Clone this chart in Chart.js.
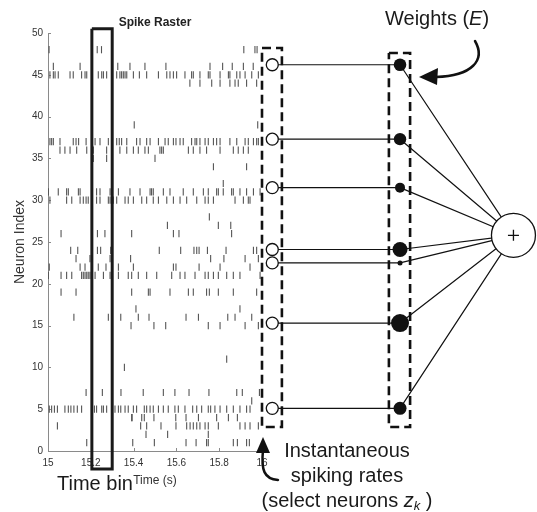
<!DOCTYPE html>
<html>
<head>
  <title>Spike Raster</title>
  <script src="https://cdn.jsdelivr.net/npm/chart.js"></script>
  <style>
    html, body { margin: 0; padding: 0; background: #fff; }
    .wrap { width: 537px; height: 512px; position: relative; }
  </style>
</head>
<body>
  <div class="wrap"><canvas id="raster"></canvas></div>
  <script>
    // axis ticks
    const xTicks = [15, 15.2, 15.4, 15.6, 15.8, 16];
    const yMin = 0, yMax = 50, yStep = 5;

    // raster: neuron index of each row and the spike times (s) on it
    const neuronIds = [48, 46, 45, 44, 39, 37, 36, 35, 34, 32, 31, 30, 28, 27, 26, 24, 23, 22, 21, 19, 17, 16, 15, 11, 10, 7, 6, 5, 4, 3, 2, 1];
    const spikeTimes = [
      [15.005, 15.23, 15.25, 15.915, 15.967, 15.977],
      [15.025, 15.15, 15.326, 15.383, 15.453, 15.551, 15.757, 15.816, 15.861, 15.913, 15.959],
      [15.009, 15.025, 15.033, 15.048, 15.103, 15.118, 15.157, 15.173, 15.181, 15.235, 15.251, 15.259, 15.274, 15.321, 15.336, 15.344, 15.352, 15.36, 15.368, 15.399, 15.427, 15.461, 15.516, 15.555, 15.57, 15.586, 15.601, 15.64, 15.671, 15.679, 15.71, 15.749, 15.757, 15.804, 15.843, 15.85, 15.882, 15.897, 15.921, 15.952, 15.983],
      [15.663, 15.71, 15.765, 15.804, 15.85, 15.874, 15.889, 15.928, 15.975],
      [15.403, 15.98],
      [15.009, 15.017, 15.025, 15.056, 15.118, 15.131, 15.143, 15.178, 15.22, 15.243, 15.282, 15.321, 15.333, 15.344, 15.368, 15.414, 15.43, 15.461, 15.477, 15.516, 15.547, 15.562, 15.586, 15.598, 15.617, 15.632, 15.671, 15.687, 15.695, 15.71, 15.734, 15.749, 15.773, 15.788, 15.804, 15.85, 15.882, 15.921, 15.936, 15.96, 15.975, 15.983],
      [15.056, 15.079, 15.103, 15.134, 15.181, 15.212, 15.274, 15.336, 15.368, 15.399, 15.422, 15.453, 15.469, 15.523, 15.531, 15.539, 15.656, 15.679, 15.71, 15.741, 15.804, 15.866, 15.889, 15.913, 15.936],
      [15.212, 15.274, 15.5],
      [15.773, 15.928],
      [15.819],
      [15.002, 15.048, 15.087, 15.095, 15.142, 15.15, 15.227, 15.243, 15.29, 15.329, 15.383, 15.43, 15.477, 15.484, 15.492, 15.539, 15.57, 15.632, 15.679, 15.726, 15.749, 15.788, 15.796, 15.819, 15.858, 15.866, 15.897, 15.928, 15.96, 15.991],
      [15.009, 15.087, 15.111, 15.15, 15.165, 15.178, 15.188, 15.227, 15.243, 15.282, 15.29, 15.305, 15.321, 15.36, 15.375, 15.399, 15.438, 15.461, 15.492, 15.516, 15.555, 15.586, 15.617, 15.648, 15.695, 15.734, 15.749, 15.773, 15.874, 15.913, 15.936, 15.944],
      [15.754],
      [15.204, 15.558, 15.796, 15.854],
      [15.061, 15.231, 15.266, 15.391, 15.586, 15.612, 15.858],
      [15.106, 15.139, 15.231, 15.246, 15.293, 15.52, 15.62, 15.682, 15.695, 15.706, 15.745, 15.832, 15.96, 15.975],
      [15.131, 15.196, 15.29, 15.386, 15.76, 15.822, 15.921, 15.983],
      [15.006, 15.15, 15.173, 15.204, 15.235, 15.271, 15.329, 15.399, 15.586, 15.598, 15.706, 15.804, 15.944],
      [15.002, 15.061, 15.087, 15.111, 15.157, 15.165, 15.173, 15.181, 15.188, 15.196, 15.22, 15.259, 15.29, 15.329, 15.375, 15.391, 15.422, 15.461, 15.508, 15.578, 15.617, 15.64, 15.687, 15.734, 15.749, 15.773, 15.796, 15.835, 15.866, 15.897, 15.991],
      [15.061, 15.131, 15.391, 15.469, 15.477, 15.57, 15.656, 15.679, 15.741, 15.754, 15.796, 15.866, 15.975],
      [15.411, 15.897],
      [15.121, 15.282, 15.34, 15.422, 15.472, 15.645, 15.703, 15.84, 15.874, 15.952],
      [15.388, 15.495, 15.55, 15.749, 15.804, 15.921, 15.983],
      [15.835],
      [15.357],
      [15.178, 15.254, 15.341, 15.445, 15.539, 15.593, 15.659, 15.752, 15.882, 15.908, 15.988],
      [15.952],
      [15.006, 15.017, 15.03, 15.044, 15.079, 15.095, 15.107, 15.121, 15.137, 15.157, 15.217, 15.227, 15.251, 15.259, 15.274, 15.313, 15.329, 15.34, 15.36, 15.375, 15.399, 15.414, 15.45, 15.461, 15.477, 15.492, 15.516, 15.539, 15.562, 15.593, 15.609, 15.64, 15.676, 15.695, 15.718, 15.749, 15.76, 15.78, 15.804, 15.835, 15.866, 15.897, 15.928, 15.944],
      [15.391, 15.393, 15.438, 15.45, 15.495, 15.597, 15.645, 15.703, 15.788, 15.843, 15.885],
      [15.044, 15.433, 15.461, 15.528, 15.598, 15.648, 15.664, 15.679, 15.695, 15.71, 15.734, 15.749, 15.796, 15.897, 15.921, 15.944, 15.983],
      [15.458, 15.559, 15.749],
      [15.181, 15.396, 15.497, 15.645, 15.692, 15.741, 15.749, 15.866, 15.885, 15.928, 15.941]
    ];

    // the time bin (s)
    const binStart = 15.205, binEnd = 15.3;

    // selected neurons and their weights E
    const selectedNeurons = [46.2, 37.3, 31.5, 24.1, 22.5, 15.3, 5.1];
    const weights = [0.63, 0.62, 0.5, 0.75, 0.25, 0.9, 0.65];

    // where the diagram columns sit, in the time units of the x axis
    const rateX = 16.048, weightX = 16.645, sumX = 17.175, sumY = 25.8;

    const FONT = '"Liberation Sans", Arial, sans-serif';

    const spikePoints = [];
    neuronIds.forEach((n, i) => {
      spikeTimes[i].forEach(t => spikePoints.push({ x: t, y: n }));
    });

    function rect(x0, x1, y0, y1) {
      return [{ x: x0, y: y1 }, { x: x1, y: y1 }, { x: x1, y: y0 }, { x: x0, y: y0 }, { x: x0, y: y1 }];
    }

    const rateToWeight = [];
    const weightToSum = [];
    selectedNeurons.forEach(n => {
      rateToWeight.push({ x: rateX, y: n }, { x: weightX, y: n }, { x: weightX, y: null });
      weightToSum.push({ x: weightX, y: n }, { x: sumX, y: sumY }, { x: sumX, y: null });
    });

    const decor = {
      id: 'decor',
      beforeDatasetsDraw(chart) {
        const { ctx, chartArea, scales } = chart;
        const x = scales.x, y = scales.y;
        ctx.save();
        ctx.strokeStyle = '#8a8a8a';
        ctx.lineWidth = 1;
        ctx.beginPath();
        ctx.moveTo(chartArea.left, chartArea.bottom + 0.5);
        ctx.lineTo(x.getPixelForValue(16), chartArea.bottom + 0.5);
        xTicks.forEach(v => {
          const px = Math.round(x.getPixelForValue(v)) + 0.5;
          ctx.moveTo(px, chartArea.bottom);
          ctx.lineTo(px, chartArea.bottom - 3);
        });
        for (let v = yMin; v <= yMax; v += yStep) {
          const py = Math.round(y.getPixelForValue(v)) + 0.5;
          ctx.moveTo(chartArea.left, py);
          ctx.lineTo(chartArea.left + 3, py);
        }
        ctx.stroke();
        ctx.restore();
      },
      afterDraw(chart) {
        const { ctx, scales } = chart;
        const x = scales.x, y = scales.y;
        ctx.save();

        // plot title and axis titles
        ctx.fillStyle = '#222';
        ctx.textAlign = 'center';
        ctx.textBaseline = 'alphabetic';
        ctx.font = 'bold 12px ' + FONT;
        ctx.fillText('Spike Raster', x.getPixelForValue(15.5), 26);
        ctx.fillStyle = '#333';
        ctx.font = '12px ' + FONT;
        ctx.fillText('Time (s)', x.getPixelForValue(15.5), 484);
        ctx.save();
        ctx.translate(24, y.getPixelForValue(25));
        ctx.rotate(-Math.PI / 2);
        ctx.font = '14px ' + FONT;
        ctx.fillText('Neuron Index', 0, 0);
        ctx.restore();

        // annotations
        ctx.fillStyle = '#1a1a1a';
        ctx.font = '20px ' + FONT;
        ctx.textAlign = 'left';
        ctx.fillText('Time bin', 57, 490);

        let tx = 385;
        ctx.fillText('Weights (', tx, 25);
        tx += ctx.measureText('Weights (').width;
        ctx.font = 'italic 20px ' + FONT;
        ctx.fillText('E', tx, 25);
        tx += ctx.measureText('E').width;
        ctx.font = '20px ' + FONT;
        ctx.fillText(')', tx, 25);

        ctx.textAlign = 'center';
        ctx.fillText('Instantaneous', 347, 457);
        ctx.fillText('spiking rates', 347, 482);

        const part1 = '(select neurons ';
        const part4 = ' )';
        ctx.font = '20px ' + FONT;
        const w1 = ctx.measureText(part1).width, w4 = ctx.measureText(part4).width;
        ctx.font = 'italic 20px ' + FONT;
        const w2 = ctx.measureText('z').width;
        ctx.font = 'italic 13px ' + FONT;
        const w3 = ctx.measureText('k').width;
        let sx = 347 - (w1 + w2 + w3 + w4) / 2;
        ctx.textAlign = 'left';
        ctx.font = '20px ' + FONT;
        ctx.fillText(part1, sx, 507); sx += w1;
        ctx.font = 'italic 20px ' + FONT;
        ctx.fillText('z', sx, 507); sx += w2;
        ctx.font = 'italic 13px ' + FONT;
        ctx.fillText('k', sx, 510); sx += w3;
        ctx.font = '20px ' + FONT;
        ctx.fillText(part4, sx, 507);

        // curved arrows
        ctx.strokeStyle = '#111';
        ctx.fillStyle = '#111';
        ctx.lineWidth = 2.5;
        ctx.lineCap = 'round';
        ctx.beginPath();
        ctx.moveTo(475, 41);
        ctx.bezierCurveTo(486, 60, 472, 76, 436, 77);
        ctx.stroke();
        ctx.beginPath();
        ctx.moveTo(419, 77);
        ctx.lineTo(438, 68);
        ctx.lineTo(437, 85);
        ctx.closePath();
        ctx.fill();

        ctx.beginPath();
        ctx.moveTo(263, 450);
        ctx.bezierCurveTo(261, 470, 264, 479, 278, 480);
        ctx.stroke();
        ctx.beginPath();
        ctx.moveTo(263, 437);
        ctx.lineTo(256, 453);
        ctx.lineTo(270, 453);
        ctx.closePath();
        ctx.fill();

        ctx.restore();
      }
    };

    const ctx = document.getElementById('raster').getContext('2d');
    const chart = new Chart(ctx, {
      type: 'scatter',
      data: {
        datasets: [
          {
            label: 'spikes',
            data: spikePoints,
            pointStyle: 'line',
            rotation: 90,
            pointRadius: 3.6,
            borderWidth: 1.1,
            borderColor: '#555',
            order: 9
          },
          {
            label: 'time bin',
            type: 'line',
            data: rect(binStart, binEnd, -2.15, 50.5),
            borderColor: '#1a1a1a',
            borderWidth: 3,
            pointRadius: 0,
            clip: false,
            order: 8
          },
          {
            label: 'rate box',
            type: 'line',
            data: rect(16.0, 16.093, 2.87, 48.2),
            borderColor: '#111',
            borderWidth: 2.6,
            borderDash: [9, 5],
            pointRadius: 0,
            clip: false,
            order: 8
          },
          {
            label: 'weight box',
            type: 'line',
            data: rect(16.593, 16.692, 2.87, 47.6),
            borderColor: '#111',
            borderWidth: 2.6,
            borderDash: [9, 5],
            pointRadius: 0,
            clip: false,
            order: 8
          },
          {
            label: 'rate to weight',
            type: 'line',
            data: rateToWeight,
            borderColor: '#111',
            borderWidth: 1.2,
            pointRadius: 0,
            spanGaps: false,
            clip: false,
            order: 7
          },
          {
            label: 'weight to sum',
            type: 'line',
            data: weightToSum,
            borderColor: '#111',
            borderWidth: 1.2,
            pointRadius: 0,
            spanGaps: false,
            clip: false,
            order: 7
          },
          {
            label: 'rates',
            data: selectedNeurons.map(n => ({ x: rateX, y: n })),
            pointRadius: 6,
            backgroundColor: '#fff',
            borderColor: '#111',
            borderWidth: 1.3,
            order: 3
          },
          {
            label: 'weights',
            data: selectedNeurons.map(n => ({ x: weightX, y: n })),
            pointRadius: weights.map(w => w * 10),
            backgroundColor: '#111',
            borderColor: '#111',
            borderWidth: 0,
            order: 3
          },
          {
            label: 'sum',
            data: [{ x: sumX, y: sumY }],
            pointRadius: 22,
            backgroundColor: '#fff',
            borderColor: '#111',
            borderWidth: 1.3,
            order: 2
          },
          {
            label: 'plus',
            data: [{ x: sumX, y: sumY }],
            pointStyle: 'cross',
            pointRadius: 5.5,
            borderColor: '#111',
            borderWidth: 1.3,
            order: 1
          }
        ]
      },
      options: {
        responsive: true,
        maintainAspectRatio: false,
        animation: false,
        events: [],
        layout: { autoPadding: false, padding: { top: 33, right: 0, left: 0, bottom: 0 } },
        plugins: { legend: { display: false }, tooltip: { enabled: false } },
        scales: {
          x: {
            type: 'linear',
            min: 15,
            max: 15 + 489 / 214,
            grid: { display: false, drawTicks: false },
            border: { display: false },
            afterBuildTicks: scale => { scale.ticks = xTicks.map(v => ({ value: v })); },
            afterFit: scale => { scale.height = 61; },
            ticks: {
              autoSkip: false,
              maxRotation: 0,
              padding: 6,
              color: '#333',
              font: { family: FONT, size: 10 },
              callback: v => String(v)
            }
          },
          y: {
            min: yMin,
            max: yMax,
            grid: { display: false, drawTicks: false },
            border: { display: true, color: '#8a8a8a', width: 1 },
            afterFit: scale => { scale.width = 48; },
            ticks: {
              stepSize: yStep,
              padding: 5,
              color: '#333',
              font: { family: FONT, size: 10 }
            }
          }
        }
      },
      plugins: [decor]
    });
  </script>
</body>
</html>
